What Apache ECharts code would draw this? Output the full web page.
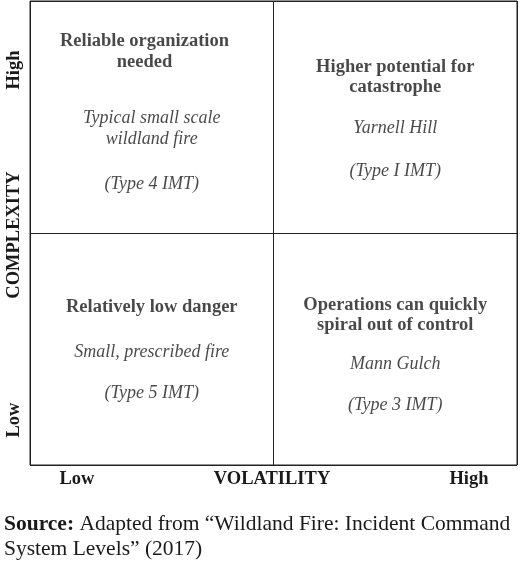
<!DOCTYPE html><html><head><meta charset="utf-8">
<script src="https://cdn.jsdelivr.net/npm/echarts@6/dist/echarts.min.js"></script>
<style>html,body{margin:0;padding:0;background:#fff}#c{width:520px;height:568px}</style></head><body><div id="c"></div>
<script>
// quadrant text lines: [x, y, text, style]  (quadrant units 0..2)
const quadrantTexts = [
  [0.47, 1.825, 'Reliable organization', 'b'],
  [0.47, 1.735, 'needed', 'b'],
  [0.5, 1.495, 'Typical small scale', 'i'],
  [0.5, 1.405, 'wildland fire', 'i'],
  [0.5, 1.21, '(Type 4 IMT)', 'i'],
  [1.5, 1.715, 'Higher potential for', 'b'],
  [1.5, 1.628, 'catastrophe', 'b'],
  [1.5, 1.45, 'Yarnell Hill', 'i'],
  [1.5, 1.265, '(Type I IMT)', 'i'],
  [0.5, 0.68, 'Relatively low danger', 'b'],
  [0.5, 0.486, 'Small, prescribed fire', 'i'],
  [0.5, 0.31, '(Type 5 IMT)', 'i'],
  [1.5, 0.688, 'Operations can quickly', 'b'],
  [1.5, 0.602, 'spiral out of control', 'b'],
  [1.5, 0.435, 'Mann Gulch', 'i'],
  [1.5, 0.258, '(Type 3 IMT)', 'i']
];
const xAxisLabels = ['Low', 'VOLATILITY', 'High'];
const yAxisLabels = ['Low', 'COMPLEXITY', 'High'];
const F = 'Liberation Serif';
const C = '#1a1a1a';
const chart = echarts.init(document.getElementById('c'));
const ax = (t,x,y,rot)=>({type:'text',x:x,y:y,rotation:rot,style:{text:t,font:'bold 18.5px '+F,fill:C,align:'center',verticalAlign:'middle'}});
chart.setOption({
  animation:false,
  grid:{left:30,right:3,top:1,bottom:103,show:true,borderColor:'#222',borderWidth:1},
  xAxis:{type:'value',min:0,max:2,interval:1,axisLabel:{show:false},axisTick:{show:false},
    axisLine:{show:false},splitLine:{show:true,lineStyle:{color:'#222',width:1}}},
  yAxis:{type:'value',min:0,max:2,interval:1,axisLabel:{show:false},axisTick:{show:false},
    axisLine:{show:false},splitLine:{show:true,lineStyle:{color:'#222',width:1}}},
  series:[{type:'scatter',symbolSize:0,
    data:quadrantTexts.map(t=>({value:[t[0],t[1]],label:{show:true,position:'inside',formatter:t[2],
      fontFamily:F,fontSize:t[3]==='b'?18.5:18,color:C,textBorderWidth:0,fontWeight:t[3]==='b'?'bold':'normal',fontStyle:t[3]==='i'?'italic':'normal'}}))}],
  graphic:[
    ax(xAxisLabels[0],77,479,0),
    ax(xAxisLabels[1],272,479,0),
    ax(xAxisLabels[2],469,479,0),
    ax(yAxisLabels[0],14,420,Math.PI/2),
    ax(yAxisLabels[1],14,235,Math.PI/2),
    ax(yAxisLabels[2],14,70,Math.PI/2),
    {type:'text',left:4,top:512,style:{rich:{b:{font:'bold 21.5px '+F,fill:C},n:{font:'21.5px '+F,fill:C}},
      text:'{b|Source:}{n| Adapted from \u201cWildland Fire: Incident Command}\n{n|System Levels\u201d (2017)}',lineHeight:25}}
  ]
});
</script></body></html>
